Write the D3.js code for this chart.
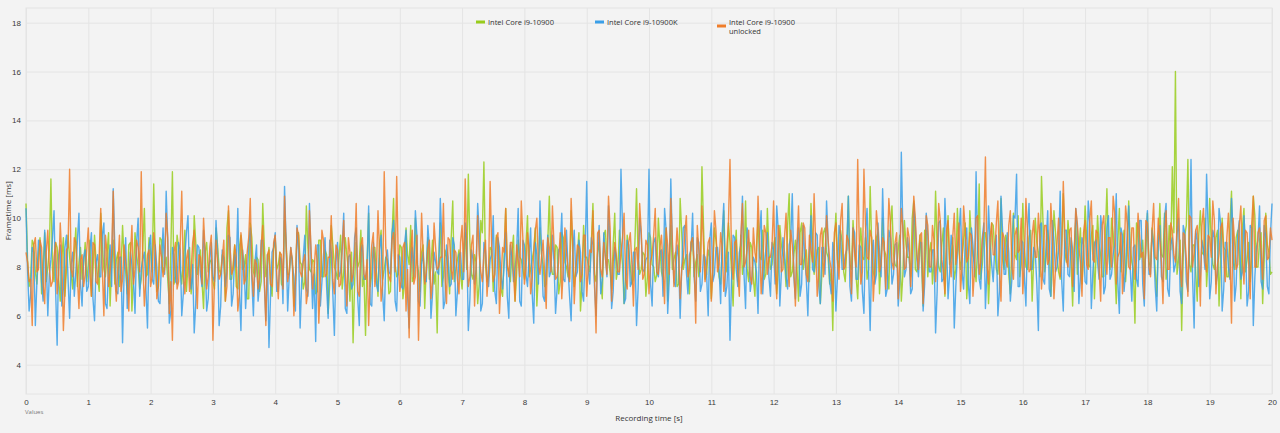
<!DOCTYPE html>
<html>
<head>
<meta charset="utf-8">
<script src="https://cdn.jsdelivr.net/npm/d3@7"></script>
<style>
	body { margin: 0; background: #f3f3f3; font-family: "Open Sans", "Noto Sans", sans-serif; }
	.grid line { stroke: #e4e4e4; }
	.grid .domain { display: none; }
	.tick text { fill: #3a3a3a; font-size: 8px; }
	.series { fill: none; stroke-width: 1.4; stroke-opacity: 0.85; stroke-linejoin: round; }
	.legend text { fill: #333; font-size: 7.5px; }
</style>
</head>
<body>
<div id="chart"></div>
<script>
// Frametime chart: three CPUs over 20 s recording

const seriesNames = ["Intel Core i9-10900", "Intel Core i9-10900K", "Intel Core i9-10900 unlocked"];
const seriesColors = ["#98cc1c", "#3a9fe8", "#ef7d2a"];
const sampleStep = 0.025; // seconds between samples (even frames in *_a, odd frames in *_b)

const i9_10900_a = [
	10.6, 7.2, 9.1, 7.8, 8.6, 6.9, 9.4, 8.0, 11.6, 7.4, 8.8, 6.6, 9.2, 7.9, 8.4, 7.1, 9.6, 8.2, 7.5, 9.0,
	8.1, 6.8, 9.3, 7.6, 10.2, 7.9, 8.5, 6.4, 9.1, 8.3, 7.2, 9.7, 7.8, 8.9, 6.2, 9.4, 8.0, 7.5, 10.4, 7.7,
	8.6, 11.4, 7.0, 9.2, 7.8, 8.4, 6.5, 11.9, 7.6, 8.8, 7.3, 9.5, 8.1, 6.9, 10.1, 7.7, 8.7, 6.3, 9.0, 8.2,
	7.4, 9.6, 7.9, 8.5, 6.6, 10.3, 7.5, 8.9, 7.1, 9.3, 8.0, 6.7, 9.8, 7.8, 8.4, 7.0, 10.6, 7.6, 8.8, 6.8,
	9.2, 8.1, 7.3, 9.9, 7.7, 8.6, 6.4, 9.4, 8.2, 7.1, 10.5, 7.9, 8.3, 6.9, 9.1, 7.6, 8.7, 6.1, 9.7, 8.0,
	7.5, 9.3, 7.8, 8.5, 6.6, 4.9, 9.0, 8.2, 7.2, 5.2, 10.2, 7.7, 8.8, 6.8, 9.5, 7.9, 8.3, 7.0, 10.8, 7.6,
	8.9, 6.7, 9.6, 8.1, 7.4, 10.0, 7.8, 8.6, 6.3, 9.2, 8.0, 7.3, 5.3, 9.8, 7.6, 8.4, 6.9, 10.7, 7.9, 8.7,
	7.1, 9.4, 11.8, 7.7, 8.5, 6.5, 9.9, 12.3, 7.4, 8.8, 7.0, 9.3, 8.2, 6.8, 10.4, 7.8, 8.6, 6.6, 9.1, 8.3,
	7.5, 10.1, 7.9, 8.7, 6.4, 9.6, 8.1, 7.3, 10.9, 7.7, 8.9, 6.9, 9.4, 8.2, 7.6, 10.3, 7.2, 8.5, 6.2, 9.7,
	8.4, 7.8, 10.6, 7.4, 9.0, 6.7, 9.5, 8.3, 7.1, 10.2, 7.9, 8.8, 6.5, 9.3, 8.0, 7.5, 11.2, 7.7, 8.6, 6.8,
	9.4, 8.1, 7.4, 10.0, 7.8, 8.9, 6.6, 9.7, 8.3, 7.2, 10.8, 7.9, 8.5, 6.9, 9.2, 8.2, 7.6, 12.1, 7.5, 8.7,
	6.7, 9.6, 8.4, 7.3, 10.3, 7.8, 9.0, 6.4, 9.5, 8.2, 7.7, 10.7, 7.4, 8.8, 6.8, 9.9, 8.3, 7.5, 10.4, 7.9,
	8.9, 6.9, 9.7, 8.5, 7.2, 11.0, 7.8, 9.1, 6.6, 9.8, 8.4, 7.6, 10.6, 7.7, 8.7, 6.5, 9.4, 8.6, 7.3, 5.4,
	10.2, 8.0, 9.0, 7.4, 10.9, 7.9, 8.8, 6.7, 9.6, 8.3, 7.5, 11.3, 7.8, 9.2, 6.9, 10.0, 8.5, 7.1, 10.5, 8.1,
	8.7, 6.6, 9.9, 8.4, 7.6, 10.7, 7.8, 9.3, 6.4, 9.5, 8.6, 7.3, 11.1, 8.0, 8.9, 6.8, 10.1, 8.4, 7.5, 10.4,
	7.9, 9.1, 6.7, 10.3, 8.5, 7.4, 11.4, 8.1, 9.4, 6.5, 9.8, 8.7, 7.7, 10.8, 7.9, 9.0, 6.9, 10.2, 8.3, 7.6,
	10.6, 8.0, 9.2, 6.6, 10.0, 8.6, 11.7, 7.8, 9.5, 6.8, 10.3, 8.4, 7.5, 11.0, 8.2, 9.1, 6.4, 9.9, 8.7, 7.3,
	10.5, 8.1, 9.3, 6.7, 10.1, 8.5, 7.6, 11.2, 7.9, 9.4, 6.5, 10.4, 8.8, 7.4, 10.7, 8.2, 5.7, 9.6, 8.6, 7.7,
	10.2, 8.0, 9.0, 6.8, 10.6, 8.4, 7.5, 9.7, 12.1, 16.0, 8.3, 5.4, 9.3, 12.4, 7.8, 8.9, 6.6, 10.3, 8.5, 7.2,
	10.8, 8.1, 9.2, 6.4, 10.0, 8.7, 7.6, 11.1, 7.9, 9.5, 6.7, 10.4, 8.3, 7.4, 10.9, 8.0, 9.1, 6.5, 10.2, 8.6,
	7.8
];
const i9_10900_b = [
	8.3, 7.6, 8.9, 7.3, 9.2, 8.0, 7.4, 8.7, 7.9, 9.0, 7.5, 8.4, 6.8, 9.3, 7.7, 8.5, 7.2, 8.8, 8.1, 7.4,
	9.1, 7.8, 8.2, 7.0, 8.9, 7.6, 9.4, 8.1, 7.3, 8.6, 7.9, 8.3, 6.9, 9.0, 7.7, 8.5, 7.1, 8.8, 7.6, 9.2,
	7.8, 8.4, 7.2, 9.1, 8.0, 7.5, 8.7, 7.3, 9.3, 7.9, 8.2, 7.0, 8.8, 7.6, 9.0, 8.1, 7.4, 8.6, 7.8, 8.3,
	7.1, 8.9, 7.7, 8.4, 9.6, 7.5, 8.1, 7.2, 8.8, 7.9, 8.5, 6.7, 9.2, 7.6, 8.3, 7.4, 8.9, 8.0, 7.3, 8.7,
	7.9, 8.6, 7.2, 9.0, 7.7, 8.3, 7.5, 9.4, 8.1, 7.4, 8.8, 7.8, 8.2, 7.0, 9.1, 7.6, 8.5, 7.3, 8.9, 7.8,
	8.4, 7.1, 9.2, 7.9, 8.6, 7.4, 8.0, 9.5, 7.6, 8.3, 7.2, 8.8, 7.8, 9.0, 7.5, 8.4, 6.9, 9.3, 8.1, 7.7,
	8.8, 7.3, 8.5, 9.7, 7.6, 8.2, 7.0, 8.9, 8.0, 7.5, 9.1, 7.8, 8.4, 7.2, 8.7, 7.9, 9.2, 7.4, 8.3, 7.7,
	8.6, 7.9, 9.0, 7.5, 8.2, 7.3, 9.4, 8.1, 7.6, 8.7, 7.8, 9.1, 7.1, 8.5, 8.0, 7.4, 9.3, 7.7, 8.4, 7.9,
	8.9, 7.6, 8.3, 9.6, 7.8, 8.5, 7.2, 9.0, 8.2, 7.7, 8.8, 7.4, 9.2, 8.0, 7.5, 8.6, 7.9, 9.4, 7.3, 8.4,
	8.1, 9.0, 7.7, 8.6, 7.4, 9.3, 8.3, 7.8, 8.9, 7.5, 9.5, 8.1, 7.6, 8.7, 7.3, 9.1, 8.4, 7.9, 8.5, 7.6,
	9.2, 8.0, 7.7, 8.8, 7.5, 9.6, 8.2, 7.9, 8.6, 7.3, 9.4, 8.3, 7.8, 9.0, 7.6, 8.5, 8.1, 9.7, 7.7, 8.4,
	8.0, 9.1, 7.6, 8.7, 8.3, 9.8, 7.8, 8.5, 7.4, 9.3, 8.2, 7.9, 9.0, 7.5, 8.8, 8.4, 9.5, 7.7, 8.6, 8.1,
	9.2, 7.8, 8.9, 8.3, 9.7, 7.6, 8.5, 8.0, 9.4, 7.9, 8.7, 7.4, 9.1, 8.2, 8.8, 7.7, 9.6, 8.4, 7.9, 9.0,
	8.3, 9.5, 7.8, 8.8, 8.1, 9.9, 7.6, 8.6, 8.4, 9.2, 7.9, 8.9, 7.5, 9.4, 8.3, 8.7, 7.8, 9.7, 8.5, 8.0,
	9.3, 7.7, 8.9, 8.4, 10.0, 7.9, 8.6, 8.2, 9.5, 7.6, 9.0, 8.3, 8.8, 7.8, 9.6, 8.5, 8.1, 9.2, 7.9, 8.7,
	8.4, 9.8, 7.8, 9.1, 8.2, 8.9, 7.5, 9.4, 8.6, 8.0, 9.7, 7.9, 8.8, 8.3, 9.3, 7.7, 9.0, 8.5, 10.1, 8.1,
	8.7, 7.9, 9.5, 8.3, 9.0, 7.6, 9.8, 8.4, 8.9, 8.0, 9.4, 7.8, 9.1, 8.6, 9.9, 8.2, 8.8, 7.7, 9.6, 8.5,
	9.2, 8.0, 9.7, 8.4, 8.9, 7.6, 9.3, 8.7, 10.0, 8.1, 9.0, 7.8, 9.5, 8.5, 8.8, 7.9, 9.8, 8.3, 9.1, 8.6,
	8.2, 9.6, 7.9, 9.0, 8.5, 10.2, 8.0, 8.7, 9.4, 7.7, 9.1, 8.4, 9.7, 8.1, 8.9, 7.8, 9.3, 8.6, 10.0, 8.3,
	9.0, 7.9, 9.5, 8.4, 8.8, 7.6, 9.8, 8.2, 9.2, 8.7, 9.6, 7.8, 9.0, 8.5, 10.1, 8.0, 9.4, 8.3, 8.9, 7.7
];

const i9_10900K_a = [
	10.4, 6.2, 8.8, 5.6, 9.1, 7.4, 9.5, 6.0, 8.3, 10.3, 4.8, 8.9, 7.1, 9.3, 5.9, 8.6, 7.8, 10.2, 6.4, 8.7,
	7.2, 9.4, 5.8, 8.5, 7.6, 9.8, 6.3, 8.9, 11.2, 7.0, 8.4, 4.9, 9.2, 7.5, 8.1, 6.1, 10.0, 7.9, 8.6, 5.5,
	9.3, 7.3, 8.0, 6.5, 9.6, 11.1, 5.7, 8.8, 7.4, 9.0, 6.0, 8.4, 10.1, 7.1, 5.3, 8.9, 7.7, 9.5, 6.2, 8.3,
	7.6, 9.9, 5.6, 8.7, 7.2, 9.3, 6.4, 8.5, 10.4, 5.4, 8.1, 7.5, 9.6, 6.0, 8.9, 7.3, 9.1, 5.8, 4.7, 8.6,
	9.4, 7.0, 8.3, 11.3, 6.2, 8.8, 7.6, 9.7, 5.5, 8.4, 7.1, 10.6, 6.3, 4.95, 8.9, 7.4, 9.2, 5.9, 8.6, 5.2,
	9.0, 7.8, 10.2, 6.1, 8.5, 7.3, 9.6, 5.6, 8.9, 7.5, 10.5, 6.4, 8.2, 7.0, 9.3, 5.8, 8.7, 7.7, 9.9, 6.2,
	8.4, 7.1, 9.5, 5.5, 8.8, 10.3, 6.6, 8.1, 7.4, 9.7, 5.9, 8.6, 7.8, 10.8, 6.3, 8.9, 7.2, 9.2, 6.0, 8.5,
	7.5, 9.8, 5.4, 8.7, 7.3, 10.6, 6.2, 9.0, 7.7, 8.3, 10.1, 6.5, 8.8, 7.1, 9.4, 5.9, 8.4, 7.9, 10.4, 6.4,
	8.9, 7.2, 9.6, 5.7, 8.5, 10.7, 6.8, 8.2, 7.6, 9.3, 6.1, 8.7, 10.2, 7.4, 8.0, 5.8, 9.5, 7.8, 8.6, 6.6,
	11.5, 7.3, 8.9, 6.0, 9.7, 7.5, 8.4, 10.5, 6.3, 8.8, 7.7, 12.0, 6.5, 9.1, 7.2, 8.6, 5.6, 10.0, 7.9, 8.3,
	12.0, 6.4, 9.2, 7.6, 8.7, 10.4, 6.1, 11.6, 7.4, 8.9, 5.9, 9.6, 7.8, 8.5, 10.2, 6.6, 9.0, 7.3, 8.4, 6.0,
	9.8, 7.7, 8.8, 6.5, 10.6, 7.2, 5.0, 9.3, 7.9, 8.6, 10.9, 6.3, 9.1, 7.5, 8.2, 6.1, 10.3, 8.0, 9.4, 6.8,
	8.7, 10.5, 6.4, 9.2, 7.6, 8.9, 11.0, 6.7, 9.6, 7.3, 8.4, 6.0, 10.1, 7.8, 9.3, 6.5, 8.8, 10.7, 7.4, 9.0,
	6.2, 9.7, 7.9, 8.5, 10.9, 6.6, 9.4, 7.5, 8.8, 6.1, 10.4, 5.4, 9.1, 7.7, 8.6, 11.2, 6.8, 9.5, 7.3, 8.9,
	6.4, 12.7, 7.6, 9.2, 6.9, 10.6, 8.3, 9.0, 6.2, 10.2, 7.8, 8.7, 5.3, 9.8, 7.4, 10.8, 6.7, 9.3, 5.5, 8.5,
	10.4, 7.1, 9.6, 6.5, 8.9, 11.9, 7.5, 9.2, 6.3, 10.5, 8.1, 8.8, 6.0, 10.9, 7.7, 9.4, 6.6, 10.1, 11.8, 7.2,
	9.0, 6.4, 10.6, 7.9, 8.6, 5.4, 9.8, 7.3, 10.3, 6.8, 9.1, 8.0, 11.1, 6.2, 9.5, 7.6, 8.7, 10.4, 6.5, 9.2,
	7.4, 10.7, 6.3, 9.0, 8.2, 10.1, 6.9, 9.6, 7.5, 8.5, 11.0, 6.1, 9.3, 7.8, 10.5, 6.6, 8.9, 7.2, 9.9, 6.4,
	10.3, 7.7, 8.8, 6.2, 9.7, 7.4, 10.6, 6.8, 9.2, 8.1, 10.0, 6.5, 9.4, 7.0, 12.4, 5.5, 9.1, 7.6, 8.7, 11.8,
	6.7, 9.5, 7.3, 10.4, 6.2, 9.0, 8.0, 10.8, 6.6, 9.3, 7.5, 10.1, 6.4, 9.7, 5.6, 8.8, 10.5, 7.1, 9.2, 6.9,
	10.6
];
const i9_10900K_b = [
	7.9, 6.9, 8.6, 7.4, 9.0, 6.6, 8.3, 7.7, 9.2, 7.1, 8.5, 6.4, 8.8, 7.5, 8.1, 6.8, 9.1, 7.3, 8.4, 7.0,
	8.7, 6.7, 8.2, 7.6, 9.3, 6.5, 8.0, 7.2, 8.9, 6.9, 8.4, 7.8, 6.3, 8.6, 7.4, 9.0, 6.8, 8.3, 7.1, 8.8,
	7.5, 8.9, 6.6, 8.2, 7.7, 9.1, 6.2, 8.5, 7.3, 8.7, 6.9, 9.4, 7.6, 8.1, 6.5, 8.8, 7.2, 8.4, 6.7, 9.0,
	7.4, 8.6, 6.4, 8.3, 7.8, 9.2, 6.9, 8.0, 7.1, 8.7, 6.3, 8.9, 7.5, 8.2, 6.6, 9.1, 7.3, 8.5, 6.8, 8.8,
	7.0, 8.4, 6.5, 9.0, 7.6, 8.1, 6.2, 8.7, 7.4, 9.3, 6.8, 8.3, 7.7, 8.9, 6.4, 8.5, 7.2, 9.1, 6.9, 8.2,
	7.6, 8.8, 6.3, 8.4, 7.1, 9.2, 6.7, 8.6, 7.5, 8.0, 6.5, 9.0, 7.3, 8.7, 6.9, 8.3, 7.8, 9.4, 6.6, 8.5,
	7.2, 8.9, 6.8, 8.1, 7.6, 9.3, 6.4, 8.6, 7.4, 8.8, 6.9, 8.2, 7.7, 9.1, 6.6, 8.4, 7.3, 8.9, 7.0, 8.6,
	7.5, 9.0, 6.7, 8.3, 7.9, 9.4, 6.5, 8.7, 7.2, 8.5, 7.0, 9.2, 7.6, 8.1, 6.8, 8.9, 7.4, 8.6, 6.6, 9.1,
	7.7, 8.4, 6.9, 9.0, 7.3, 8.7, 6.6, 9.3, 7.8, 8.2, 7.1, 8.8, 7.5, 9.5, 6.8, 8.5, 7.6, 9.1, 7.0, 8.6,
	7.9, 9.2, 7.2, 8.5, 6.9, 9.4, 7.6, 8.8, 7.0, 8.3, 7.7, 9.6, 6.7, 8.9, 7.4, 8.6, 7.1, 9.3, 7.8, 8.4,
	7.3, 9.0, 7.8, 8.6, 6.8, 9.5, 7.5, 8.9, 7.2, 8.4, 7.9, 9.7, 6.9, 8.7, 7.6, 9.2, 7.0, 8.5, 7.7, 9.1,
	7.4, 8.8, 7.9, 9.4, 6.8, 8.6, 7.5, 9.2, 7.2, 8.9, 7.7, 9.6, 7.0, 8.4, 7.8, 9.3, 6.9, 8.7, 7.6, 9.0,
	7.3, 9.5, 7.8, 8.6, 7.1, 9.2, 7.6, 8.9, 6.8, 9.7, 7.5, 8.5, 7.9, 9.4, 7.2, 8.8, 7.7, 9.1, 6.9, 8.6,
	7.6, 9.3, 7.9, 8.7, 7.2, 9.6, 7.5, 8.9, 7.0, 9.4, 7.8, 8.5, 7.3, 9.8, 7.6, 8.8, 7.1, 9.2, 7.7, 9.0,
	7.4, 9.5, 7.9, 8.6, 7.1, 9.7, 7.6, 9.0, 7.3, 9.3, 7.8, 8.7, 7.0, 9.9, 7.5, 9.1, 7.7, 8.8, 7.2, 9.4,
	7.8, 9.0, 7.3, 9.6, 7.6, 8.7, 7.1, 9.8, 7.9, 8.9, 7.4, 9.3, 7.0, 9.5, 7.7, 8.6, 7.5, 10.0, 7.2, 9.1,
	7.6, 9.4, 7.9, 8.8, 7.3, 9.7, 7.5, 9.0, 7.1, 9.9, 7.8, 8.7, 7.4, 9.5, 7.7, 9.2, 7.0, 9.6, 7.6, 8.9,
	7.3, 9.8, 7.8, 9.1, 7.5, 9.4, 7.2, 10.1, 7.7, 8.9, 7.4, 9.6, 7.0, 9.3, 7.9, 8.8, 7.5, 9.9, 7.3, 9.2,
	7.7, 9.5, 7.2, 9.0, 7.6, 10.0, 7.1, 8.9, 7.8, 9.3, 7.0, 9.7, 7.4, 8.8, 7.6, 9.5, 7.2, 9.1, 7.9, 9.6,
	7.4, 9.2, 7.7, 9.8, 7.1, 9.0, 7.5, 9.4, 7.3, 9.9, 7.8, 8.9, 7.0, 9.6, 7.6, 9.1, 7.4, 9.7, 7.2, 9.3
];

const i9_10900_unlocked_a = [
	8.6, 7.4, 5.6, 9.2, 7.9, 8.8, 6.5, 9.5, 7.2, 8.4, 6.9, 9.8, 5.4, 8.7, 12.0, 7.6, 9.0, 6.3, 8.5, 7.7,
	9.6, 6.8, 8.9, 7.3, 10.4, 6.0, 8.6, 7.8, 11.1, 6.6, 9.3, 7.5, 8.2, 6.2, 9.7, 7.9, 8.8, 11.9, 6.4, 8.5,
	7.2, 9.4, 6.7, 8.9, 7.6, 10.2, 6.1, 5.0, 9.0, 7.4, 11.1, 6.9, 8.7, 7.8, 9.5, 6.3, 8.4, 10.0, 7.1, 8.8,
	5.0, 9.1, 7.5, 8.3, 6.6, 10.5, 7.7, 8.9, 6.2, 9.4, 7.3, 8.6, 10.8, 6.8, 8.1, 7.6, 9.7, 5.6, 8.7, 7.2,
	9.3, 6.7, 8.5, 10.9, 7.4, 8.8, 6.0, 9.6, 7.8, 8.2, 6.5, 10.3, 7.1, 8.9, 5.7, 9.5, 7.6, 8.4, 10.1, 6.9,
	8.7, 7.3, 9.9, 6.4, 8.6, 7.7, 10.6, 6.8, 9.2, 7.5, 5.6, 8.9, 7.2, 10.3, 6.6, 11.9, 8.1, 7.4, 9.4, 11.7,
	7.0, 8.8, 6.2, 5.1, 9.5, 7.6, 5.0, 10.2, 7.3, 8.7, 6.7, 9.8, 7.9, 8.4, 10.6, 6.5, 9.1, 7.5, 8.6, 6.9,
	9.7, 11.6, 7.2, 8.9, 6.4, 10.1, 7.8, 8.5, 6.8, 11.5, 7.4, 9.2, 6.1, 8.8, 10.4, 7.6, 9.0, 6.6, 8.3, 10.7,
	7.3, 9.4, 6.9, 8.6, 10.0, 7.7, 9.1, 6.3, 8.8, 10.5, 7.5, 8.2, 6.7, 9.6, 7.9, 10.8, 6.5, 8.9, 7.4, 9.3,
	6.8, 8.7, 10.3, 5.3, 9.5, 7.6, 8.4, 10.9, 6.6, 9.0, 7.8, 8.6, 10.2, 7.1, 9.4, 6.4, 8.8, 10.6, 7.5, 9.1,
	6.9, 8.5, 10.4, 7.7, 9.3, 6.5, 8.9, 10.8, 7.2, 9.6, 6.7, 8.3, 10.1, 7.9, 9.2, 5.7, 8.7, 10.5, 7.4, 9.0,
	6.6, 10.3, 7.8, 9.4, 7.0, 8.8, 12.4, 7.5, 9.1, 6.8, 10.6, 8.2, 9.5, 7.3, 8.6, 10.9, 6.9, 9.7, 7.7, 8.4,
	10.7, 6.7, 9.2, 7.9, 10.2, 7.2, 8.9, 6.4, 10.5, 8.1, 9.6, 7.4, 8.7, 11.0, 6.8, 9.3, 7.6, 10.1, 8.3, 6.6,
	9.8, 7.5, 10.6, 8.0, 9.1, 6.9, 8.6, 12.4, 7.3, 12.0, 8.4, 9.5, 6.6, 10.3, 7.8, 9.2, 7.1, 10.8, 8.2, 9.0,
	6.7, 10.4, 7.9, 9.6, 7.2, 10.9, 8.5, 9.3, 6.5, 10.1, 8.0, 9.7, 7.4, 10.6, 8.3, 6.9, 9.9, 7.6, 10.2, 8.8,
	7.0, 10.5, 8.2, 9.4, 6.8, 10.0, 7.7, 9.1, 12.5, 7.3, 9.8, 8.5, 10.7, 6.6, 9.2, 8.0, 10.3, 7.5, 9.6, 8.7,
	6.9, 10.8, 7.8, 9.3, 8.4, 10.2, 7.1, 9.7, 8.1, 10.6, 6.7, 9.0, 7.6, 11.5, 8.3, 9.5, 7.2, 10.4, 8.8, 6.8,
	9.9, 7.9, 10.7, 8.2, 9.4, 6.6, 10.1, 7.7, 9.2, 10.9, 7.3, 8.6, 6.9, 10.5, 8.0, 9.6, 7.5, 10.2, 8.4, 6.7,
	9.8, 7.6, 10.6, 8.3, 9.1, 6.5, 10.3, 7.9, 9.5, 8.2, 10.8, 7.2, 9.3, 6.8, 10.0, 8.6, 9.7, 6.4, 10.4, 7.8,
	9.2, 10.7, 6.9, 8.5, 9.8, 7.4, 10.2, 5.7, 9.0, 8.1, 10.5, 7.3, 9.4, 6.7, 10.9, 8.0, 9.6, 7.5, 10.1, 8.4,
	9.1
];
const i9_10900_unlocked_b = [
	8.2, 7.5, 8.9, 7.8, 9.1, 7.3, 8.6, 8.0, 7.4, 9.0, 7.7, 8.4, 7.1, 8.8, 7.9, 9.2, 7.6, 8.3, 7.2, 8.7,
	7.8, 9.0, 7.4, 8.5, 7.9, 9.3, 7.2, 8.6, 7.7, 8.1, 7.0, 8.9, 7.6, 8.4, 7.3, 9.1, 7.8, 8.2, 7.5, 8.7,
	7.6, 8.8, 7.2, 8.4, 7.9, 9.2, 7.4, 8.6, 7.1, 8.9, 7.7, 8.3, 7.0, 9.0, 7.8, 8.5, 7.3, 8.7, 7.6, 9.3,
	7.4, 8.2, 7.7, 9.1, 7.2, 8.8, 7.9, 8.4, 6.9, 8.7, 7.5, 9.2, 7.8, 8.3, 7.1, 8.9, 7.6, 8.5, 7.3, 9.0,
	7.7, 8.6, 7.1, 8.9, 7.8, 8.3, 7.4, 9.3, 7.6, 8.5, 7.0, 8.8, 7.9, 8.2, 7.3, 9.1, 7.7, 8.4, 7.5, 8.9,
	7.2, 8.7, 7.8, 9.2, 7.4, 8.5, 7.0, 8.9, 7.7, 8.3, 7.5, 9.4, 7.9, 8.6, 7.3, 8.8, 7.6, 9.1, 7.8, 8.4,
	7.5, 9.0, 7.9, 8.6, 7.3, 9.3, 7.7, 8.5, 7.8, 9.1, 7.4, 8.8, 8.0, 8.4, 7.6, 9.2, 7.9, 8.7, 7.5, 9.0,
	7.8, 8.6, 7.6, 9.3, 8.0, 8.5, 7.4, 9.1, 7.9, 8.8, 7.7, 9.4, 7.5, 8.6, 8.1, 9.0, 7.7, 8.9, 7.6, 9.2,
	7.9, 8.7, 7.5, 9.5, 8.1, 8.4, 7.7, 9.2, 7.8, 8.9, 7.6, 9.4, 8.0, 8.6, 7.4, 9.1, 7.9, 8.8, 7.7, 9.3,
	8.0, 8.6, 7.6, 9.4, 7.9, 9.0, 7.7, 9.6, 8.2, 8.5, 7.8, 9.2, 7.5, 9.0, 8.1, 8.7, 7.9, 9.5, 7.7, 8.9,
	8.2, 9.3, 7.8, 8.8, 8.0, 9.6, 7.7, 9.1, 8.3, 8.7, 7.9, 9.4, 7.6, 9.0, 8.1, 9.7, 7.8, 8.9, 8.2, 9.2,
	7.9, 9.5, 8.1, 8.8, 7.7, 9.8, 8.3, 9.0, 7.8, 9.3, 8.0, 8.7, 7.6, 9.6, 8.2, 9.1, 7.9, 9.4, 8.4, 8.9,
	8.0, 9.7, 7.8, 9.2, 8.3, 9.5, 7.9, 8.9, 8.1, 9.8, 7.7, 9.3, 8.2, 9.0, 7.8, 9.6, 8.4, 9.1, 7.9, 9.4,
	8.2, 9.9, 7.9, 9.3, 8.4, 9.6, 8.0, 9.1, 7.8, 9.7, 8.3, 9.2, 7.9, 9.5, 8.1, 9.0, 8.5, 9.8, 7.9, 9.4,
	8.3, 9.6, 8.0, 9.2, 8.5, 10.0, 7.9, 9.4, 8.2, 9.7, 8.0, 9.1, 8.4, 9.9, 7.8, 9.5, 8.3, 9.2, 8.1, 9.8,
	8.0, 9.6, 8.4, 9.3, 7.9, 10.1, 8.2, 9.5, 8.1, 9.2, 8.5, 9.8, 7.9, 9.4, 8.3, 9.7, 8.0, 9.3, 8.6, 10.0,
	8.2, 9.5, 7.9, 9.9, 8.4, 9.2, 8.1, 9.7, 8.3, 9.4, 7.9, 10.0, 8.5, 9.3, 8.0, 9.6, 8.4, 9.8, 8.2, 9.4,
	8.1, 9.9, 8.3, 9.5, 7.9, 9.7, 8.5, 9.2, 8.0, 10.2, 8.4, 9.4, 8.2, 9.8, 7.9, 9.6, 8.3, 9.3, 8.6, 9.9,
	8.0, 9.5, 8.4, 10.0, 8.2, 9.3, 7.9, 9.8, 8.5, 9.6, 8.1, 9.4, 8.3, 10.1, 8.0, 9.5, 8.6, 9.7, 8.2, 9.3,
	8.4, 9.9, 8.1, 9.6, 8.3, 9.2, 8.5, 10.0, 7.9, 9.7, 8.4, 9.5, 8.2, 9.8, 8.0, 9.4, 8.6, 9.9, 8.3, 9.6
];

const yTicks = [4, 6, 8, 10, 12, 14, 16, 18];
const xTicks = [0, 1, 2, 3, 4, 5, 6, 7, 8, 9, 10, 11, 12, 13, 14, 15, 16, 17, 18, 19, 20];

// even/odd frames back into one sequence
const interleave = (a, b) => d3.merge(a.map((v, i) => i < b.length ? [v, b[i]] : [v]));
const seriesValues = [
	interleave(i9_10900_a, i9_10900_b),
	interleave(i9_10900K_a, i9_10900K_b),
	interleave(i9_10900_unlocked_a, i9_10900_unlocked_b)
];

const width = 1280, height = 433;
const margin = {top: 8, right: 8, bottom: 39, left: 26};

const svg = d3.select("#chart")
	.append("svg")
	.attr("width", width)
	.attr("height", height)
	.attr("viewBox", [0, 0, width, height]);

let x = d3.scaleLinear()
	.domain([0, 20])
	.range([margin.left, width - margin.right]);

let y = d3.scaleLinear()
	.domain([2.8, 18.6])
	.range([height - margin.bottom, margin.top]);

// grid + axes
svg.append("g")
	.attr("class", "grid")
	.attr("transform", `translate(0,${height - margin.bottom})`)
	.call(d3.axisBottom(x).tickValues(xTicks).tickFormat(d3.format("d"))
		.tickSize(-(height - margin.top - margin.bottom)).tickPadding(5))
	.call(g => g.selectAll(".tick text").attr("dy", "0.8em"));

svg.append("g")
	.attr("class", "grid")
	.attr("transform", `translate(${margin.left},0)`)
	.call(d3.axisLeft(y).tickValues(yTicks).tickFormat(d3.format("d"))
		.tickSize(-(width - margin.left - margin.right)).tickPadding(5));

// frame
svg.append("rect")
	.attr("x", margin.left)
	.attr("y", margin.top)
	.attr("width", width - margin.left - margin.right)
	.attr("height", height - margin.top - margin.bottom)
	.attr("fill", "none")
	.attr("stroke", "#e4e4e4");

let line = d3.line()
	.x((d, i) => x(i * sampleStep))
	.y(d => y(d));

const plot = svg.append("g");
seriesValues.forEach((vals, k) => {
	plot.append("path")
		.datum(vals)
		.attr("class", "series")
		.attr("stroke", seriesColors[k])
		.attr("d", line);
});

// axis titles
svg.append("text")
	.attr("x", (margin.left + width - margin.right) / 2)
	.attr("y", 421)
	.attr("text-anchor", "middle")
	.attr("font-size", 8)
	.attr("fill", "#333")
	.text("Recording time [s]");

svg.append("text")
	.attr("transform", `translate(11,${y(10.3)}) rotate(-90)`)
	.attr("text-anchor", "middle")
	.attr("font-size", 8)
	.attr("fill", "#333")
	.text("Frametime [ms]");

svg.append("text")
	.attr("x", 25)
	.attr("y", 414)
	.attr("font-size", 6)
	.attr("fill", "#777")
	.text("Values");

// legend
const legendX = [476, 595, 717];
const legend = svg.append("g").attr("class", "legend");
seriesNames.forEach((name, k) => {
	const g = legend.append("g").attr("transform", `translate(${legendX[k]},22)`);
	const twoLines = name.endsWith("unlocked");
	g.append("line")
		.attr("x1", 0).attr("x2", 9)
		.attr("y1", twoLines ? 4 : 0).attr("y2", twoLines ? 4 : 0)
		.attr("stroke", seriesColors[k])
		.attr("stroke-width", 3);
	const t = g.append("text").attr("x", 12).attr("y", 2.5);
	if (twoLines) {
		t.append("tspan").attr("x", 12).text("Intel Core i9-10900");
		t.append("tspan").attr("x", 12).attr("dy", 9).text("unlocked");
	} else {
		t.text(name);
	}
});
</script>
</body>
</html>
